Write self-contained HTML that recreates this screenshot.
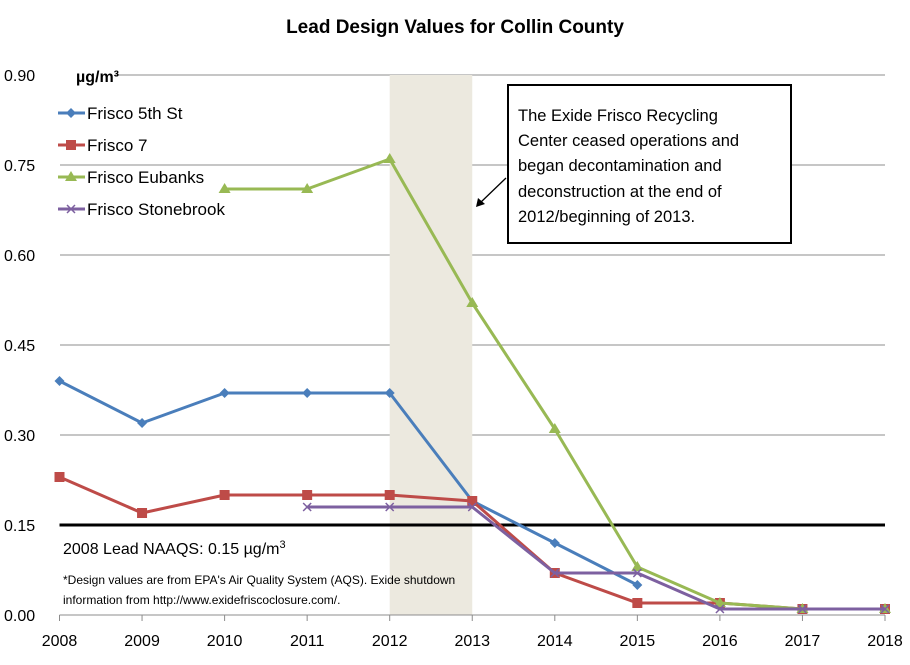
<!DOCTYPE html>
<html><head><meta charset="utf-8"><style>
body{margin:0;background:#fff;font-family:"Liberation Sans",sans-serif;}
svg text{font-family:"Liberation Sans",sans-serif;}
</style></head><body>
<svg id="chart" width="910" height="660" viewBox="0 0 910 660" xmlns="http://www.w3.org/2000/svg">
<text x="455" y="33" text-anchor="middle" font-size="19" font-weight="bold">Lead Design Values for Collin County</text>
<g id="grid"></g><g id="band"></g><g id="axes"></g><g id="series"></g>
<text x="76" y="82" font-size="16" font-weight="bold">µg/m³</text>
<g>
<rect x="508" y="85" width="283" height="158" fill="#fff" stroke="#000" stroke-width="2"/>
<text font-size="16.5">
<tspan x="518" y="121">The Exide Frisco Recycling</tspan>
<tspan x="518" y="146">Center ceased operations and</tspan>
<tspan x="518" y="171">began decontamination and</tspan>
<tspan x="518" y="197">deconstruction at the end of</tspan>
<tspan x="518" y="222">2012/beginning of 2013.</tspan></text></g>
<g><line x1="506" y1="178" x2="480" y2="203" stroke="#000" stroke-width="1.3"/><path d="M476,207 L478,198 L485,204 Z" fill="#000"/></g>
<text x="63" y="554" font-size="16">2008 Lead NAAQS: 0.15 µg/m<tspan dy="-6" font-size="11">3</tspan></text>
<text font-size="12"><tspan x="63" y="584">*Design values are from EPA's Air Quality System (AQS). Exide shutdown</tspan><tspan x="63" y="604">information from http://www.exidefriscoclosure.com/.</tspan></text>
<g id="legend"></g>
</svg>
<script>
const years=[2008,2009,2010,2011,2012,2013,2014,2015,2016,2017,2018];
const yTicks=[0,0.15,0.30,0.45,0.60,0.75,0.90];
const s5th=[0.39,0.32,0.37,0.37,0.37,0.19,0.12,0.05,null,null,null];
const s7=[0.23,0.17,0.20,0.20,0.20,0.19,0.07,0.02,0.02,0.01,0.01];
const sEubanks=[null,null,0.71,0.71,0.76,0.52,0.31,0.08,0.02,0.01,0.01];
const sStone=[null,null,null,0.18,0.18,0.18,0.07,0.07,0.01,0.01,0.01];
const naaqs=0.15;
const NS="http://www.w3.org/2000/svg";
const X=y=>59.5+(y-2008)*82.55, Y=v=>615-v*600;
function mk(t,a,p){const e=document.createElementNS(NS,t);for(const k in a)e.setAttribute(k,a[k]);p.appendChild(e);return e;}
const grid=document.getElementById('grid'),axes=document.getElementById('axes'),band=document.getElementById('band'),ser=document.getElementById('series'),leg=document.getElementById('legend');
const b=mk('rect',{x:X(2012),y:Y(0.9),width:X(2013)-X(2012),height:Y(0)-Y(0.9),fill:'#ece9df'},band);


yTicks.forEach(v=>{
 if(v>0){const l=mk('line',{x1:v==0.9?172:(v==0.75?60:60),x2:X(2018),y1:Y(v),y2:Y(v),stroke:'#8c8c8c','stroke-width':1},grid);
 if(v==0.9)l.setAttribute('x1',115);
 if(v==0.75)l.setAttribute('x1',60);
 
 }
 const t=mk('text',{x:4,y:Y(v)+6,'font-size':16},axes);t.textContent=v.toFixed(2);
 
 
});
const ax=mk('line',{x1:X(2008),x2:X(2018),y1:Y(0),y2:Y(0),stroke:'#8c8c8c','stroke-width':1},axes);


years.forEach(y=>{
 mk('line',{x1:X(y),x2:X(y),y1:Y(0),y2:Y(0)+6,stroke:'#8c8c8c'},axes);
 const t=mk('text',{x:X(y),y:Y(0)+31,'font-size':16,'text-anchor':'middle'},axes);t.textContent=y;
 
 
});
const nl=mk('line',{x1:X(2008),x2:X(2018),y1:Y(naaqs),y2:Y(naaqs),stroke:'#000','stroke-width':3},axes);


function marker(kind,x,y,c,p){
 if(kind=='d')return mk('path',{d:`M${x},${y-5}L${x+5},${y}L${x},${y+5}L${x-5},${y}Z`,fill:c},p);
 if(kind=='s')return mk('rect',{x:x-5,y:y-5,width:10,height:10,fill:c},p);
 if(kind=='t')return mk('path',{d:`M${x},${y-6}L${x+6},${y+4}L${x-6},${y+4}Z`,fill:c},p);
 return mk('path',{d:`M${x-4},${y-4}L${x+4},${y+4}M${x-4},${y+4}L${x+4},${y-4}`,stroke:c,'stroke-width':1.5},p);
}
const defs=[[s5th,'#4a7ebb','d','Frisco 5th St','series-frisco-5th-st'],[s7,'#be4b48','s','Frisco 7','series-frisco-7'],[sEubanks,'#98b954','t','Frisco Eubanks','series-frisco-eubanks'],[sStone,'#7d60a0','x','Frisco Stonebrook','series-frisco-stonebrook']];
defs.forEach(([d,c,k,name,dn],i)=>{
 const g=mk('g',{},ser);
 
 
 const pts=[];d.forEach((v,j)=>{if(v!=null)pts.push([X(years[j]),Y(v)]);});
 mk('polyline',{points:pts.map(p=>p.join(',')).join(' '),fill:'none',stroke:c,'stroke-width':3,'stroke-linejoin':'round'},g);
 pts.forEach(p=>{const m=marker(k,p[0],p[1],c,g);
 
 });
 const ly=113+i*32;
 const lg=mk('g',{},leg);
 
 
 mk('line',{x1:58,x2:85,y1:ly,y2:ly,stroke:c,'stroke-width':3},lg);
 marker(k,71,ly,c,lg);
 const t=mk('text',{x:87,y:ly+6,'font-size':17},lg);t.textContent=name;
});
</script>
</body></html>
